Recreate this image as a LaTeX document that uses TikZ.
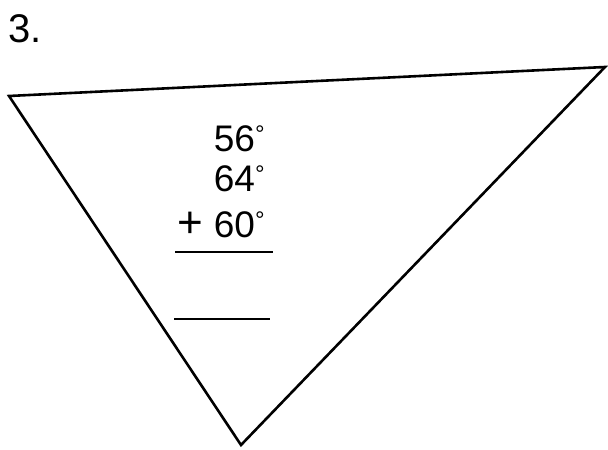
\documentclass[tikz,border=0pt]{standalone}
\usepackage{fontspec}
\setmainfont{Liberation Sans}
\usetikzlibrary{positioning}
\newcommand{\dg}{\raisebox{.5ex}{\fontsize{12}{12}\selectfont°}}

\begin{document}
\begin{tikzpicture}[x=.5pt,y=.5pt,
  sumtext/.style={font=\fontsize{18.5}{20}\selectfont,inner sep=0pt,anchor=base east},
  edge/.style={line width=1.3pt,line join=miter},
  bar/.style={line width=1.1pt}]
\useasboundingbox (0,0) rectangle (608,449);
\node[font=\fontsize{20}{22}\selectfont,inner sep=0pt,anchor=base west] (num) at (8,406){3.};
% triangle
\coordinate (tl) at (9,353);
\coordinate (tr) at (605,382);
\coordinate (bt) at (241,4);
\draw[edge] (tl)--(tr)--(bt)--cycle;
% sum
\node[sumtext] (a) at (265,297){56\dg};
\node[sumtext] (b) at (265,257){64\dg};
\node[sumtext] (c) at (265,211){{\fontsize{22}{22}\selectfont+} 60\dg};
\coordinate (r1a) at (175,197);
\coordinate (r1b) at (273,197);
\coordinate (r2a) at (174,130);
\coordinate (r2b) at (270,130);
\draw[bar] (r1a)--(r1b);
\draw[bar] (r2a)--(r2b);
\end{tikzpicture}
\end{document}
